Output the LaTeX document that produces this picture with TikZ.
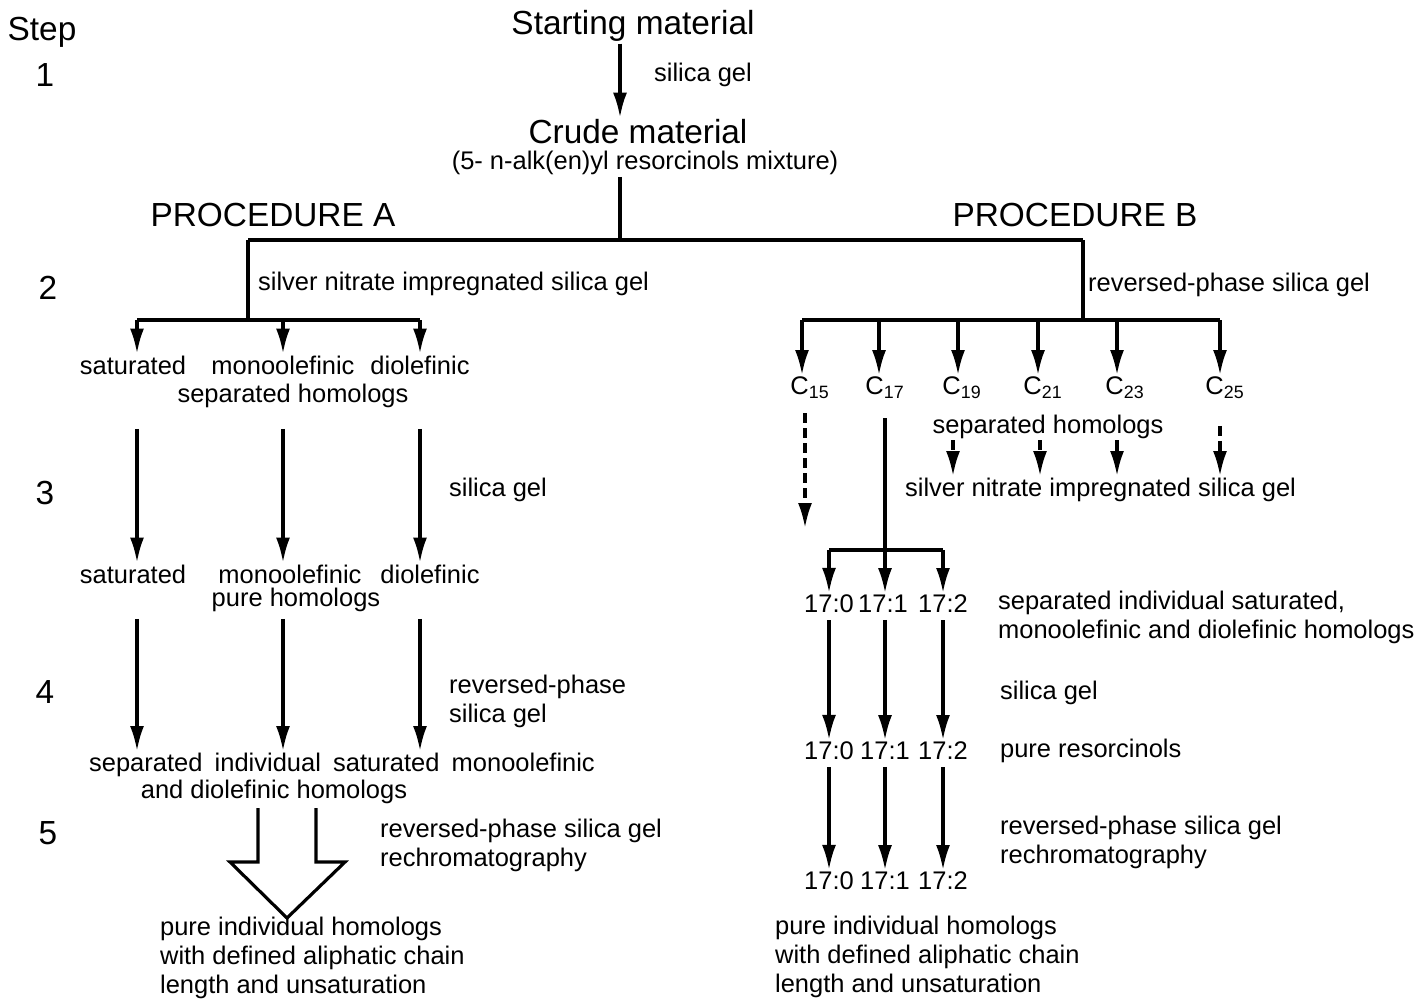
\documentclass[tikz,border=0pt]{standalone}
\usepackage{fontspec}
\setmainfont{Liberation Sans}
\usetikzlibrary{arrows.meta}

\tikzset{
  bar/.style={line width=1.8pt},
  flow/.style={bar, -{Latex[length=0.5cm,width=0.28cm]}},
  dflow/.style={flow, dash pattern=on 0.2cm off 0.1cm},
  lbl/.style={font=\fontsize{14.5}{16.5}\selectfont, inner sep=1pt},
  note/.style={lbl, anchor=west, align=left},
  big/.style={font=\fontsize{19}{22}\selectfont, inner sep=1pt}
}

\begin{document}
\begin{tikzpicture}[x=0.02cm,y=-0.02cm]
\useasboundingbox (0,0) rectangle (1415,1000);

% steps
\node[big] (stephd) at (42,32) {Step};
\node[big] (st1) at (45,75) {1};
\node[big] (st2) at (48,288) {2};
\node[big] (st3) at (45,493) {3};
\node[big] (st4) at (45,692) {4};
\node[big] (st5) at (48,833) {5};

% top
\node[big] (start) at (633,26) {Starting material};
\node[big] (crude) at (638,132) {Crude material};
\node[lbl] (mix) at (645,163) {(5- n-alk(en)yl resorcinols mixture)};
\node[lbl] (sg1) at (703,75) {silica gel};
\coordinate (top) at (620,240);
\draw[flow] (start.south -| top) -- (crude.north -| top);
\draw[bar] (mix.south -| top) -- (top);
\coordinate (jA) at (248,240);
\coordinate (jB) at (1083,240);
\draw[bar] (jA) -- (jB);
\node[big] (procA) at (273,215) {PROCEDURE A};
\node[big] (procB) at (1075,215) {PROCEDURE B};

% procedure A
\coordinate (barA) at (248,320);
\draw[bar] (jA) -- (barA);
\node[note] (agA) at (256,284) {silver nitrate impregnated silica gel};
\coordinate (a1) at (137,320);
\coordinate (a2) at (283,320);
\coordinate (a3) at (420,320);
\draw[bar] (a1) -- (a3);
\node[lbl] (satA) at (133,365) {saturated};
\node[lbl] (monoA) at (283,365) {monoolefinic};
\node[lbl] (diA) at (420,365) {diolefinic};
\node[lbl] (sepA) at (293,396) {separated homologs};
\foreach \c/\n in {a1/satA,a2/monoA,a3/diA}
  \draw[flow] (\c) -- (\c |- \n.north);

\node[note] (sgA) at (447,490) {silica gel};
\node[lbl] (sat3) at (133,574) {saturated};
\node[lbl] (mono3) at (290,574) {monoolefinic};
\node[lbl] (di3) at (430,574) {diolefinic};
\node[lbl] (pure3) at (296,600) {pure homologs};
\foreach \c in {a1,a2,a3}
  \draw[flow, shorten <=0.38cm] (\c |- sepA.south) -- (\c |- sat3.north);

\node[note] (rpA) at (447,701) {reversed-phase\\silica gel};
\node[lbl] (sep4) at (342,765) {\spaceskip=7pt separated individual saturated monoolefinic};
\node[lbl] (and4) at (274,792) {and diolefinic homologs};
\foreach \c in {a1,a2,a3}
  \draw[flow, shorten <=0.1cm] (\c |- pure3.south) -- (\c |- sep4.north);

% hollow arrow
\draw[bar, line join=miter] (258,808) -- (258,862) -- (230,862) -- (287,918)
  -- (345,862) -- (316,862) -- (316,808);
\node[note] (rrA) at (378,845) {reversed-phase silica gel\\rechromatography};
\node[note] (endA) at (158,958) {pure individual homologs\\with defined aliphatic chain\\length and unsaturation};

% procedure B
\coordinate (barB) at (1083,320);
\draw[bar] (jB) -- (barB);
\node[note] (rpB) at (1086,285) {reversed-phase silica gel};
\coordinate (b15) at (802,320);
\coordinate (b17) at (879,320);
\coordinate (b19) at (958,320);
\coordinate (b21) at (1038,320);
\coordinate (b23) at (1117,320);
\coordinate (b25) at (1220,320);
\draw[bar] (b15) -- (b25);
\node[lbl] (c15) at (810,388) {C\textsubscript{15}};
\node[lbl] (c17) at (885,388) {C\textsubscript{17}};
\node[lbl] (c19) at (962,388) {C\textsubscript{19}};
\node[lbl] (c21) at (1043,388) {C\textsubscript{21}};
\node[lbl] (c23) at (1125,388) {C\textsubscript{23}};
\node[lbl] (c25) at (1225,388) {C\textsubscript{25}};
\foreach \c/\n in {b15/c15,b17/c17,b19/c19,b21/c21,b23/c23,b25/c25}
  \draw[flow] (\c) -- (\c |- \n.north);
\node[lbl] (sepB) at (1048,427) {separated homologs};
\node[note] (agB) at (903,490) {silver nitrate impregnated silica gel};

\coordinate (d15) at (805,528);
\draw[dflow, shorten <=0.25cm] (c15.south -| d15) -- (d15);
\coordinate (s19) at (953,440);
\coordinate (s21) at (1040,440);
\coordinate (s23) at (1117,440);
\draw[dflow] (s19) -- (s19 |- agB.north);
\draw[dflow] (s21) -- (s21 |- agB.north);
\draw[flow] (s23) -- (s23 |- agB.north);
\draw[dflow, shorten <=0.5cm] (b25 |- c25.south) -- (b25 |- agB.north);

\coordinate (j17) at (885,550);
\coordinate (k0) at (829,550);
\coordinate (k2) at (943,550);
\draw[bar, shorten <=0.35cm] (c17.south -| j17) -- (j17);
\draw[bar] (k0) -- (k2);
\node[lbl] (r0) at (829,604) {17:0};
\node[lbl] (r1) at (883,604) {17:1};
\node[lbl] (r2) at (943,604) {17:2};
\draw[flow] (k0) -- (k0 |- r0.north);
\draw[flow] (j17) -- (j17 |- r1.north);
\draw[flow] (k2) -- (k2 |- r2.north);
\node[note] (indB) at (996,617) {separated individual saturated,\\monoolefinic and diolefinic homologs};

\node[note] (sgB) at (998,693) {silica gel};
\node[lbl] (p0) at (829,751) {17:0};
\node[lbl] (p1) at (885,751) {17:1};
\node[lbl] (p2) at (943,751) {17:2};
\node[note] (prB) at (998,751) {pure resorcinols};
\draw[flow, shorten <=0.1cm] (r0) -- (p0);
\draw[flow, shorten <=0.1cm] (r1.south -| p1) -- (p1);
\draw[flow, shorten <=0.1cm] (r2) -- (p2);

\node[note] (rrB) at (998,842) {reversed-phase silica gel\\rechromatography};
\node[lbl] (q0) at (829,881) {17:0};
\node[lbl] (q1) at (885,881) {17:1};
\node[lbl] (q2) at (943,881) {17:2};
\draw[flow, shorten <=0.1cm] (p0) -- (q0);
\draw[flow, shorten <=0.1cm] (p1) -- (q1);
\draw[flow, shorten <=0.1cm] (p2) -- (q2);
\node[note] (endB) at (773,957) {pure individual homologs\\with defined aliphatic chain\\length and unsaturation};
\end{tikzpicture}
\end{document}
